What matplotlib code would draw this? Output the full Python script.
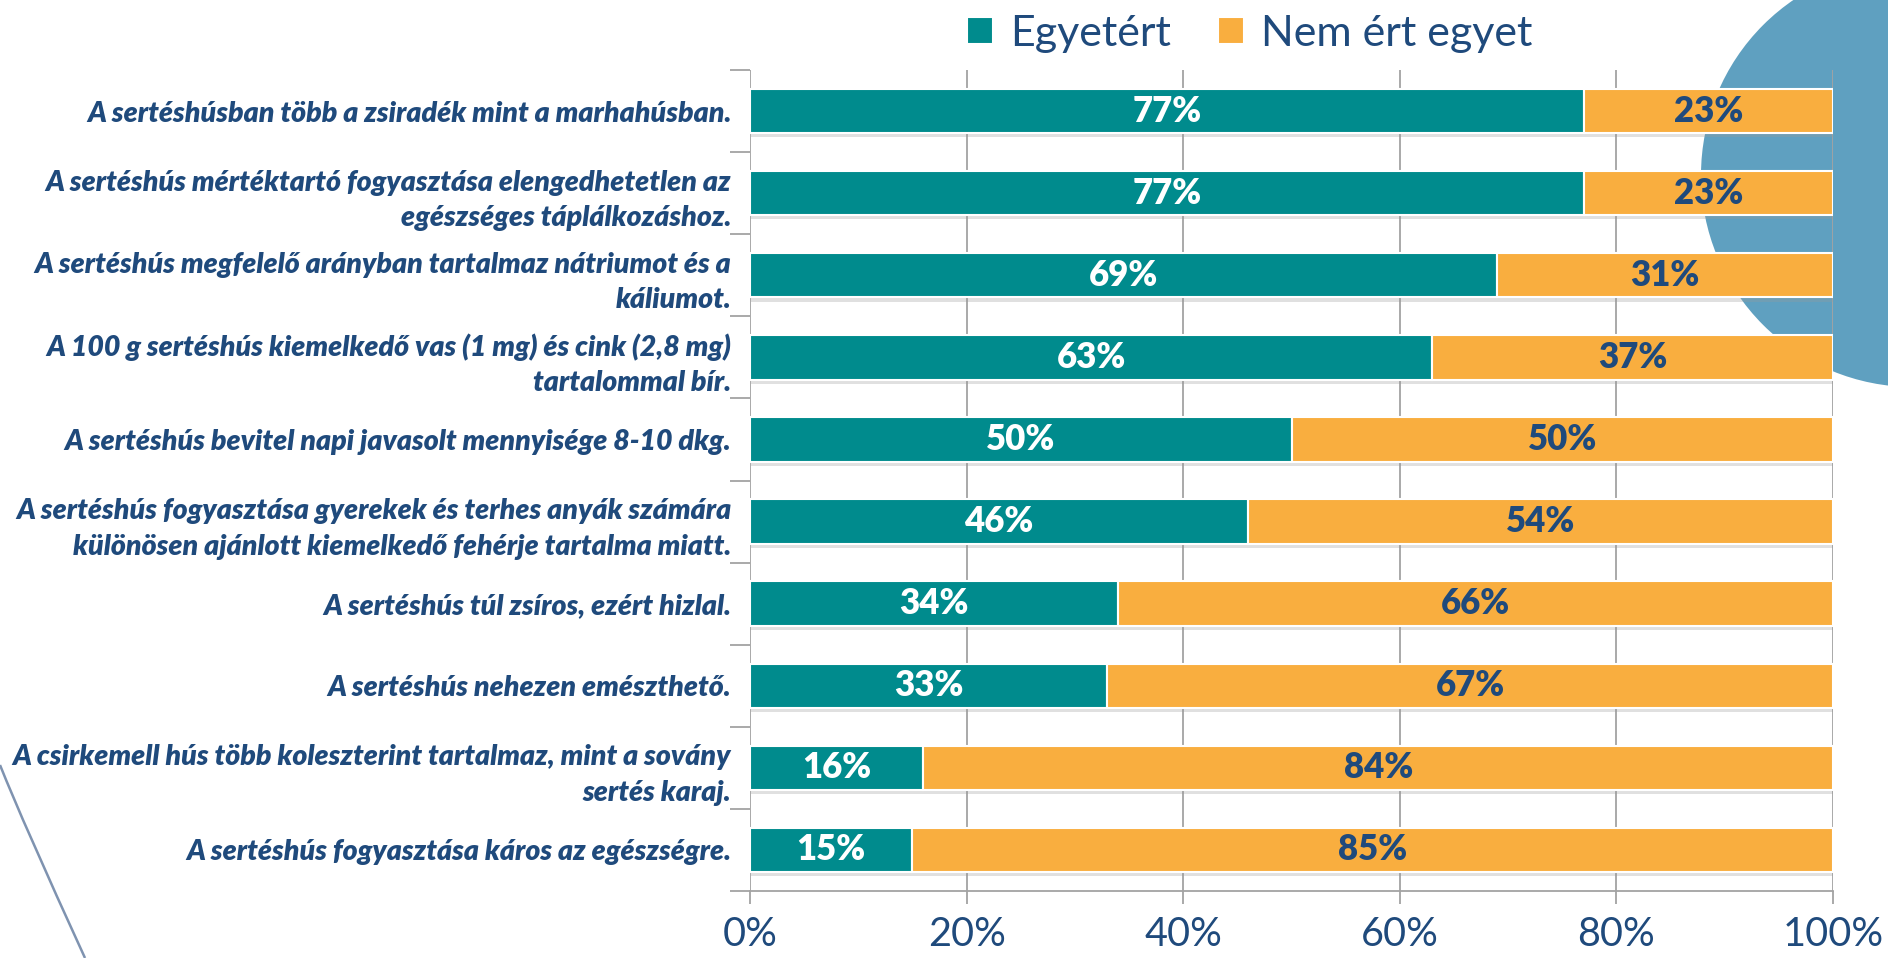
import numpy as np
import matplotlib
matplotlib.use("Agg")
import matplotlib.pyplot as plt
from matplotlib.patches import Ellipse, PathPatch
from matplotlib.path import Path
import matplotlib.patheffects as pe

plt.rcParams['font.family'] = ['Lato', 'DejaVu Sans']

categories = [
    "A sertéshúsban több a zsiradék mint a marhahúsban.",
    "A sertéshús mértéktartó fogyasztása elengedhetetlen az\negészséges táplálkozáshoz.",
    "A sertéshús megfelelő arányban tartalmaz nátriumot és a\nkáliumot.",
    "A 100 g sertéshús kiemelkedő vas (1 mg) és cink (2,8 mg)\ntartalommal bír.",
    "A sertéshús bevitel napi javasolt mennyisége 8-10 dkg.",
    "A sertéshús fogyasztása gyerekek és terhes anyák számára\nkülönösen ajánlott kiemelkedő fehérje tartalma miatt.",
    "A sertéshús túl zsíros, ezért hizlal.",
    "A sertéshús nehezen emészthető.",
    "A csirkemell hús több koleszterint tartalmaz, mint a sovány\nsertés karaj.",
    "A sertéshús fogyasztása káros az egészségre.",
]
agree = [77, 77, 69, 63, 50, 46, 34, 33, 16, 15]
disagree = [23, 23, 31, 37, 50, 54, 66, 67, 84, 85]
series_names = ["Egyetért", "Nem ért egyet"]
xticks = [0, 20, 40, 60, 80, 100]
xtick_labels = ["0%", "20%", "40%", "60%", "80%", "100%"]

TEAL = "#008B8D"
ORANGE = "#F9AE3F"
DARKBLUE = "#1F4A7C"
GRID = "#A3A3A3"

W, H = 1888, 958
fig = plt.figure(figsize=(W / 100, H / 100), dpi=100)
fig.patch.set_facecolor("white")

# decorative background circle (top right)
circ = Ellipse((1913 / W, 1 - 175 / H), width=2 * 212 / W, height=2 * 212 / H,
               transform=fig.transFigure, facecolor="#5FA0C0", edgecolor="none", zorder=0)
fig.add_artist(circ)

# decorative thin curve (bottom left)
verts = [(0 / W, 1 - 765 / H), (23.5 / W, 1 - 824 / H), (85 / W, 1 - 958 / H)]
curve = PathPatch(Path(verts, [Path.MOVETO, Path.CURVE3, Path.CURVE3]),
                  transform=fig.transFigure, facecolor="none", edgecolor="#7F93B0",
                  linewidth=1.8, zorder=0)
fig.add_artist(curve)

ax = fig.add_axes([750 / W, 1 - 891 / H, 1083 / W, 821 / H])
ax.patch.set_alpha(0)
ax.set_zorder(1)

y = np.arange(len(categories))
shadow = [pe.SimplePatchShadow(offset=(1, -3), shadow_rgbFace="#9A9A9A", alpha=0.3), pe.Normal()]
b1 = ax.barh(y, agree, height=0.54, color=TEAL, edgecolor="white", linewidth=1.5,
             label=series_names[0], zorder=3)
b2 = ax.barh(y, disagree, left=agree, height=0.54, color=ORANGE, edgecolor="white",
             linewidth=1.5, label=series_names[1], zorder=3)
for p in list(b1) + list(b2):
    p.set_path_effects(shadow)

ax.bar_label(b1, labels=[f"{v}%" for v in agree], label_type="center", color="white",
             fontsize=25, fontweight="heavy", zorder=4)
ax.bar_label(b2, labels=[f"{v}%" for v in disagree], label_type="center", color=DARKBLUE,
             fontsize=25, fontweight="heavy", zorder=4)

ax.set_xlim(0, 100)
ax.set_ylim(len(categories) - 0.5, -0.5)
ax.set_xticks(xticks)
ax.set_xticklabels(xtick_labels, fontsize=28.5, color=DARKBLUE)
ax.set_yticks(y)
ax.set_yticklabels(categories, fontsize=20.5, fontweight="heavy", fontstyle="italic",
                   color=DARKBLUE, linespacing=1.45)
ax.set_yticks(np.arange(-0.5, len(categories), 1), minor=True)
ax.tick_params(axis="y", which="major", length=0, pad=13.5)
ax.tick_params(axis="y", which="minor", length=14.5, width=1.3, color=GRID)
ax.tick_params(axis="x", which="major", length=9, width=1.3, color=GRID, pad=9)

ax.xaxis.grid(True, color=GRID, linewidth=1.3, zorder=0)
ax.set_axisbelow(True)
for s in ["top", "right", "left"]:
    ax.spines[s].set_visible(False)
ax.spines["bottom"].set_color(GRID)
ax.spines["bottom"].set_linewidth(1.3)

leg = fig.legend(handles=[b1, b2], labels=series_names, loc="center",
                 bbox_to_anchor=(1250 / W, 1 - 34 / H), ncol=2, frameon=False,
                 fontsize=31, handlelength=0.6, handleheight=0.6, handletextpad=0.4,
                 columnspacing=1.1, labelcolor=DARKBLUE)
for h in leg.legend_handles:
    h.set_path_effects([])

fig.savefig("out.png", dpi=100)
